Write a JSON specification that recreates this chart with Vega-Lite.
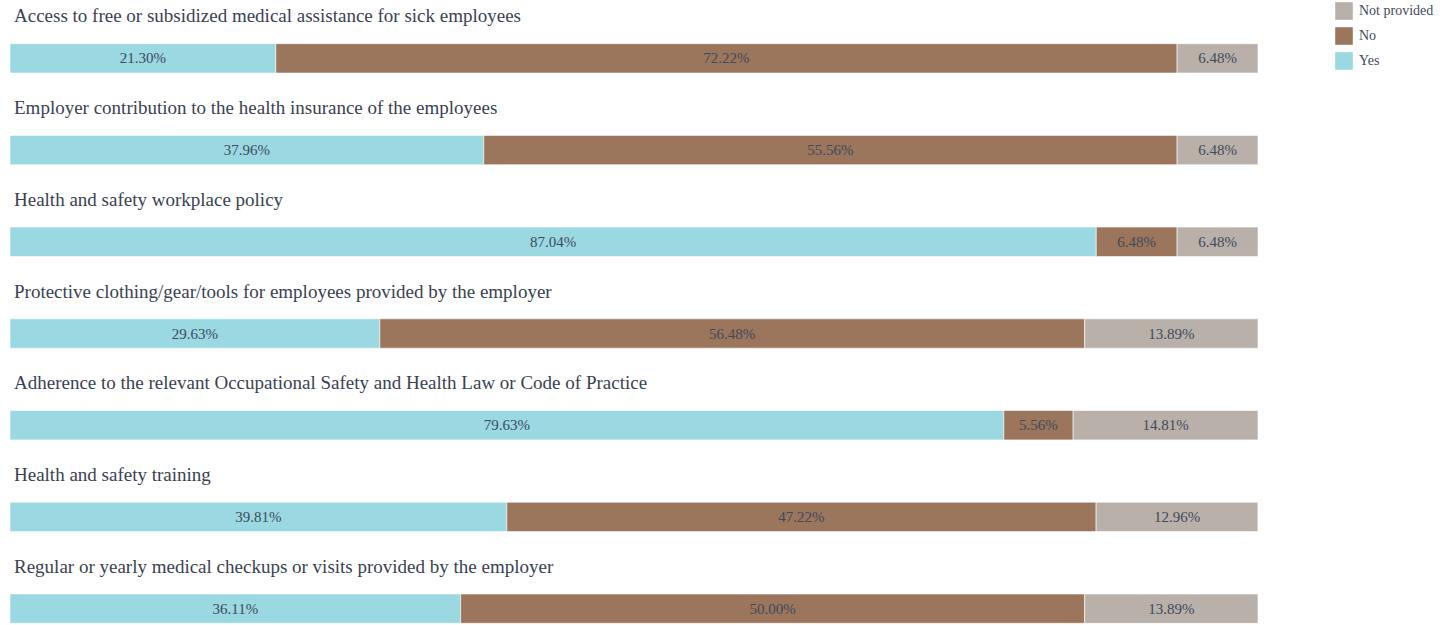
{
  "$schema": "https://vega.github.io/schema/vega-lite/v6.json",
  "width": 1248,
  "height": 609,
  "autosize": "none",
  "padding": {"left": 10, "top": 29, "right": 198, "bottom": 0},
  "config": {"view": {"stroke": null}},
  "data": {"values": [
    {"q": "Access to free or subsidized medical assistance for sick employees", "answer": "Yes", "share": 0.2130},
    {"q": "Access to free or subsidized medical assistance for sick employees", "answer": "No", "share": 0.7222},
    {"q": "Access to free or subsidized medical assistance for sick employees", "answer": "Not provided", "share": 0.0648},
    {"q": "Employer contribution to the health insurance of the employees", "answer": "Yes", "share": 0.3796},
    {"q": "Employer contribution to the health insurance of the employees", "answer": "No", "share": 0.5556},
    {"q": "Employer contribution to the health insurance of the employees", "answer": "Not provided", "share": 0.0648},
    {"q": "Health and safety workplace policy", "answer": "Yes", "share": 0.8704},
    {"q": "Health and safety workplace policy", "answer": "No", "share": 0.0648},
    {"q": "Health and safety workplace policy", "answer": "Not provided", "share": 0.0648},
    {"q": "Protective clothing/gear/tools for employees provided by the employer", "answer": "Yes", "share": 0.2963},
    {"q": "Protective clothing/gear/tools for employees provided by the employer", "answer": "No", "share": 0.5648},
    {"q": "Protective clothing/gear/tools for employees provided by the employer", "answer": "Not provided", "share": 0.1389},
    {"q": "Adherence to the relevant Occupational Safety and Health Law or Code of Practice", "answer": "Yes", "share": 0.7963},
    {"q": "Adherence to the relevant Occupational Safety and Health Law or Code of Practice", "answer": "No", "share": 0.0556},
    {"q": "Adherence to the relevant Occupational Safety and Health Law or Code of Practice", "answer": "Not provided", "share": 0.1481},
    {"q": "Health and safety training", "answer": "Yes", "share": 0.3981},
    {"q": "Health and safety training", "answer": "No", "share": 0.4722},
    {"q": "Health and safety training", "answer": "Not provided", "share": 0.1296},
    {"q": "Regular or yearly medical checkups or visits provided by the employer", "answer": "Yes", "share": 0.3611},
    {"q": "Regular or yearly medical checkups or visits provided by the employer", "answer": "No", "share": 0.5000},
    {"q": "Regular or yearly medical checkups or visits provided by the employer", "answer": "Not provided", "share": 0.1389}
  ]},
  "transform": [
    {"calculate": "indexof(['Yes','No','Not provided'], datum.answer)", "as": "ord"},
    {"window": [{"op": "sum", "field": "share", "as": "x1"}], "groupby": ["q"], "sort": [{"field": "ord", "order": "ascending"}], "frame": [null, 0]},
    {"calculate": "datum.x1 - datum.share", "as": "x0"},
    {"calculate": "(datum.x0 + datum.x1) / 2", "as": "xm"}
  ],
  "layer": [
    {
      "mark": {"type": "bar", "stroke": "#ffffff", "strokeWidth": 0.6},
      "encoding": {
        "y": {
          "field": "q", "type": "nominal", "axis": null, "sort": null,
          "scale": {"paddingInner": 0.68, "paddingOuter": 0.16}
        },
        "x": {"field": "x0", "type": "quantitative", "axis": null, "scale": {"domain": [0, 1]}},
        "x2": {"field": "x1"},
        "color": {
          "field": "answer", "type": "nominal",
          "scale": {"domain": ["Not provided", "No", "Yes"], "range": ["#bab0aa", "#9b755c", "#9ad8e2"]},
          "legend": {
            "title": null, "orient": "none", "legendX": 1325, "legendY": -27, "padding": 0,
            "symbolType": "square", "symbolSize": 310, "symbolStrokeWidth": 0,
            "labelFont": "Liberation Serif", "labelFontSize": 14, "labelColor": "#404a5a",
            "rowPadding": 7, "labelOffset": 6
          }
        }
      }
    },
    {
      "mark": {"type": "text", "font": "Liberation Serif", "fontSize": 15, "color": "#404a5a", "align": "center", "baseline": "middle"},
      "encoding": {
        "y": {"field": "q", "type": "nominal", "sort": null},
        "x": {"field": "xm", "type": "quantitative"},
        "text": {"field": "share", "type": "quantitative", "format": ".2%"}
      }
    },
    {
      "mark": {"type": "text", "font": "Liberation Serif", "fontSize": 19, "color": "#3a4252", "align": "left", "baseline": "middle", "dx": 4, "dy": -42},
      "encoding": {
        "y": {"field": "q", "type": "nominal", "sort": null},
        "x": {"field": "x0", "type": "quantitative"},
        "text": {"condition": {"test": "datum.answer == 'Yes'", "field": "q"}, "value": ""}
      }
    }
  ]
}
